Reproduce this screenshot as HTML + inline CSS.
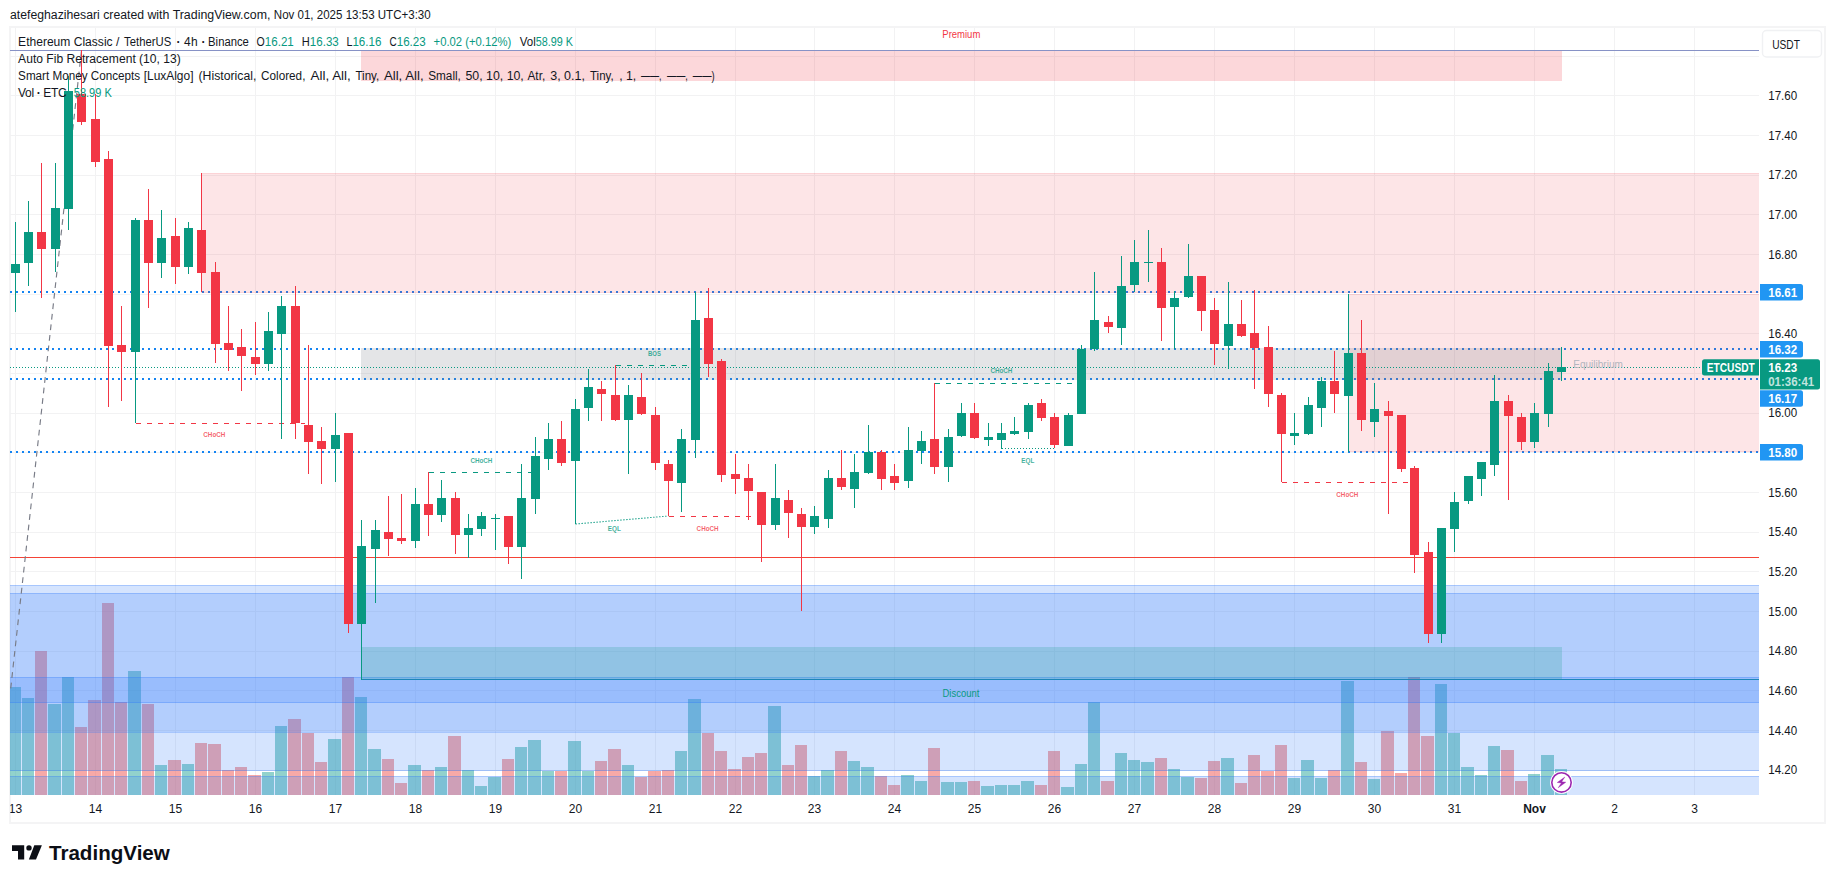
<!DOCTYPE html>
<html lang="en"><head><meta charset="utf-8"><title>ETCUSDT chart</title>
<style>
html,body{margin:0;padding:0;background:#fff;}
body{width:1835px;height:883px;overflow:hidden;position:relative;font-family:"Liberation Sans", sans-serif;}
svg{position:absolute;left:0;top:0;display:block;}
text{font-family:"Liberation Sans", sans-serif;}
.ce{shape-rendering:crispEdges;}
</style></head><body>
<svg width="1835" height="883" viewBox="0 0 1835 883">
<rect x="0" y="0" width="1835" height="883" fill="#ffffff"/>
<defs><clipPath id="pane"><rect x="10" y="28" width="1749" height="767"/></clipPath></defs>
<g class="ce" fill="#f4f4f5">
<rect x="9" y="26" width="1817" height="2"/>
<rect x="9" y="822" width="1817" height="2"/>
<rect x="9" y="26" width="2" height="798"/>
<rect x="1824" y="26" width="2" height="798"/>
</g>
<g clip-path="url(#pane)">
<g class="ce" fill="#f2f2f3">
<rect x="15" y="28" width="1" height="767"/>
<rect x="95" y="28" width="1" height="767"/>
<rect x="175" y="28" width="1" height="767"/>
<rect x="255" y="28" width="1" height="767"/>
<rect x="335" y="28" width="1" height="767"/>
<rect x="415" y="28" width="1" height="767"/>
<rect x="495" y="28" width="1" height="767"/>
<rect x="575" y="28" width="1" height="767"/>
<rect x="655" y="28" width="1" height="767"/>
<rect x="735" y="28" width="1" height="767"/>
<rect x="814" y="28" width="1" height="767"/>
<rect x="894" y="28" width="1" height="767"/>
<rect x="974" y="28" width="1" height="767"/>
<rect x="1054" y="28" width="1" height="767"/>
<rect x="1134" y="28" width="1" height="767"/>
<rect x="1214" y="28" width="1" height="767"/>
<rect x="1294" y="28" width="1" height="767"/>
<rect x="1374" y="28" width="1" height="767"/>
<rect x="1454" y="28" width="1" height="767"/>
<rect x="1534" y="28" width="1" height="767"/>
<rect x="1614" y="28" width="1" height="767"/>
<rect x="1694" y="28" width="1" height="767"/>
<rect x="10" y="56" width="1749" height="1"/>
<rect x="10" y="95" width="1749" height="1"/>
<rect x="10" y="135" width="1749" height="1"/>
<rect x="10" y="175" width="1749" height="1"/>
<rect x="10" y="214" width="1749" height="1"/>
<rect x="10" y="254" width="1749" height="1"/>
<rect x="10" y="294" width="1749" height="1"/>
<rect x="10" y="333" width="1749" height="1"/>
<rect x="10" y="373" width="1749" height="1"/>
<rect x="10" y="413" width="1749" height="1"/>
<rect x="10" y="452" width="1749" height="1"/>
<rect x="10" y="492" width="1749" height="1"/>
<rect x="10" y="532" width="1749" height="1"/>
<rect x="10" y="571" width="1749" height="1"/>
<rect x="10" y="611" width="1749" height="1"/>
<rect x="10" y="651" width="1749" height="1"/>
<rect x="10" y="690" width="1749" height="1"/>
<rect x="10" y="730" width="1749" height="1"/>
<rect x="10" y="770" width="1749" height="1"/>
</g>
<g class="ce">
<rect x="8" y="687" width="13" height="108" fill="#26a69a" fill-opacity="0.5"/>
<rect x="22" y="698" width="12" height="97" fill="#26a69a" fill-opacity="0.5"/>
<rect x="35" y="651" width="12" height="144" fill="#ef5350" fill-opacity="0.5"/>
<rect x="48" y="704" width="13" height="91" fill="#26a69a" fill-opacity="0.5"/>
<rect x="62" y="677" width="12" height="118" fill="#26a69a" fill-opacity="0.5"/>
<rect x="75" y="727" width="12" height="68" fill="#ef5350" fill-opacity="0.5"/>
<rect x="88" y="700" width="13" height="95" fill="#ef5350" fill-opacity="0.5"/>
<rect x="102" y="603" width="12" height="192" fill="#ef5350" fill-opacity="0.5"/>
<rect x="115" y="702" width="12" height="93" fill="#ef5350" fill-opacity="0.5"/>
<rect x="128" y="671" width="13" height="124" fill="#26a69a" fill-opacity="0.5"/>
<rect x="142" y="704" width="12" height="91" fill="#ef5350" fill-opacity="0.5"/>
<rect x="155" y="765" width="12" height="30" fill="#26a69a" fill-opacity="0.5"/>
<rect x="168" y="760" width="13" height="35" fill="#ef5350" fill-opacity="0.5"/>
<rect x="182" y="764" width="12" height="31" fill="#26a69a" fill-opacity="0.5"/>
<rect x="195" y="743" width="12" height="52" fill="#ef5350" fill-opacity="0.5"/>
<rect x="208" y="744" width="13" height="51" fill="#ef5350" fill-opacity="0.5"/>
<rect x="222" y="770" width="12" height="25" fill="#ef5350" fill-opacity="0.5"/>
<rect x="235" y="767" width="12" height="28" fill="#ef5350" fill-opacity="0.5"/>
<rect x="248" y="775" width="13" height="20" fill="#ef5350" fill-opacity="0.5"/>
<rect x="262" y="772" width="12" height="23" fill="#26a69a" fill-opacity="0.5"/>
<rect x="275" y="726" width="12" height="69" fill="#26a69a" fill-opacity="0.5"/>
<rect x="288" y="719" width="13" height="76" fill="#ef5350" fill-opacity="0.5"/>
<rect x="302" y="733" width="12" height="62" fill="#ef5350" fill-opacity="0.5"/>
<rect x="315" y="762" width="12" height="33" fill="#ef5350" fill-opacity="0.5"/>
<rect x="328" y="739" width="13" height="56" fill="#26a69a" fill-opacity="0.5"/>
<rect x="342" y="677" width="12" height="118" fill="#ef5350" fill-opacity="0.5"/>
<rect x="355" y="697" width="12" height="98" fill="#26a69a" fill-opacity="0.5"/>
<rect x="368" y="749" width="13" height="46" fill="#26a69a" fill-opacity="0.5"/>
<rect x="382" y="759" width="12" height="36" fill="#ef5350" fill-opacity="0.5"/>
<rect x="395" y="783" width="12" height="12" fill="#ef5350" fill-opacity="0.5"/>
<rect x="408" y="765" width="13" height="30" fill="#26a69a" fill-opacity="0.5"/>
<rect x="422" y="770" width="12" height="25" fill="#ef5350" fill-opacity="0.5"/>
<rect x="435" y="767" width="12" height="28" fill="#26a69a" fill-opacity="0.5"/>
<rect x="448" y="736" width="13" height="59" fill="#ef5350" fill-opacity="0.5"/>
<rect x="462" y="770" width="12" height="25" fill="#26a69a" fill-opacity="0.5"/>
<rect x="475" y="786" width="12" height="9" fill="#26a69a" fill-opacity="0.5"/>
<rect x="488" y="777" width="13" height="18" fill="#26a69a" fill-opacity="0.5"/>
<rect x="502" y="759" width="12" height="36" fill="#ef5350" fill-opacity="0.5"/>
<rect x="515" y="747" width="12" height="48" fill="#26a69a" fill-opacity="0.5"/>
<rect x="528" y="740" width="13" height="55" fill="#26a69a" fill-opacity="0.5"/>
<rect x="542" y="771" width="12" height="24" fill="#26a69a" fill-opacity="0.5"/>
<rect x="555" y="771" width="12" height="24" fill="#ef5350" fill-opacity="0.5"/>
<rect x="568" y="741" width="13" height="54" fill="#26a69a" fill-opacity="0.5"/>
<rect x="582" y="771" width="12" height="24" fill="#26a69a" fill-opacity="0.5"/>
<rect x="595" y="761" width="12" height="34" fill="#ef5350" fill-opacity="0.5"/>
<rect x="608" y="749" width="13" height="46" fill="#ef5350" fill-opacity="0.5"/>
<rect x="622" y="765" width="12" height="30" fill="#26a69a" fill-opacity="0.5"/>
<rect x="635" y="777" width="12" height="18" fill="#ef5350" fill-opacity="0.5"/>
<rect x="648" y="771" width="13" height="24" fill="#ef5350" fill-opacity="0.5"/>
<rect x="662" y="770" width="12" height="25" fill="#ef5350" fill-opacity="0.5"/>
<rect x="675" y="751" width="12" height="44" fill="#26a69a" fill-opacity="0.5"/>
<rect x="688" y="699" width="13" height="96" fill="#26a69a" fill-opacity="0.5"/>
<rect x="702" y="733" width="12" height="62" fill="#ef5350" fill-opacity="0.5"/>
<rect x="715" y="751" width="12" height="44" fill="#ef5350" fill-opacity="0.5"/>
<rect x="728" y="769" width="13" height="26" fill="#ef5350" fill-opacity="0.5"/>
<rect x="742" y="757" width="12" height="38" fill="#ef5350" fill-opacity="0.5"/>
<rect x="755" y="753" width="12" height="42" fill="#ef5350" fill-opacity="0.5"/>
<rect x="768" y="706" width="13" height="89" fill="#26a69a" fill-opacity="0.5"/>
<rect x="782" y="765" width="12" height="30" fill="#ef5350" fill-opacity="0.5"/>
<rect x="795" y="745" width="12" height="50" fill="#ef5350" fill-opacity="0.5"/>
<rect x="808" y="776" width="12" height="19" fill="#26a69a" fill-opacity="0.5"/>
<rect x="821" y="770" width="13" height="25" fill="#26a69a" fill-opacity="0.5"/>
<rect x="835" y="751" width="12" height="44" fill="#ef5350" fill-opacity="0.5"/>
<rect x="848" y="761" width="12" height="34" fill="#26a69a" fill-opacity="0.5"/>
<rect x="861" y="767" width="13" height="28" fill="#26a69a" fill-opacity="0.5"/>
<rect x="875" y="776" width="12" height="19" fill="#ef5350" fill-opacity="0.5"/>
<rect x="888" y="785" width="12" height="10" fill="#ef5350" fill-opacity="0.5"/>
<rect x="901" y="775" width="13" height="20" fill="#26a69a" fill-opacity="0.5"/>
<rect x="915" y="781" width="12" height="14" fill="#26a69a" fill-opacity="0.5"/>
<rect x="928" y="748" width="12" height="47" fill="#ef5350" fill-opacity="0.5"/>
<rect x="941" y="782" width="13" height="13" fill="#26a69a" fill-opacity="0.5"/>
<rect x="955" y="782" width="12" height="13" fill="#26a69a" fill-opacity="0.5"/>
<rect x="968" y="781" width="12" height="14" fill="#ef5350" fill-opacity="0.5"/>
<rect x="981" y="786" width="13" height="9" fill="#26a69a" fill-opacity="0.5"/>
<rect x="995" y="785" width="12" height="10" fill="#26a69a" fill-opacity="0.5"/>
<rect x="1008" y="785" width="12" height="10" fill="#26a69a" fill-opacity="0.5"/>
<rect x="1021" y="781" width="13" height="14" fill="#26a69a" fill-opacity="0.5"/>
<rect x="1035" y="785" width="12" height="10" fill="#ef5350" fill-opacity="0.5"/>
<rect x="1048" y="751" width="12" height="44" fill="#ef5350" fill-opacity="0.5"/>
<rect x="1061" y="787" width="13" height="8" fill="#26a69a" fill-opacity="0.5"/>
<rect x="1075" y="764" width="12" height="31" fill="#26a69a" fill-opacity="0.5"/>
<rect x="1088" y="702" width="12" height="93" fill="#26a69a" fill-opacity="0.5"/>
<rect x="1101" y="781" width="13" height="14" fill="#ef5350" fill-opacity="0.5"/>
<rect x="1115" y="753" width="12" height="42" fill="#26a69a" fill-opacity="0.5"/>
<rect x="1128" y="760" width="12" height="35" fill="#26a69a" fill-opacity="0.5"/>
<rect x="1141" y="762" width="13" height="33" fill="#26a69a" fill-opacity="0.5"/>
<rect x="1155" y="758" width="12" height="37" fill="#ef5350" fill-opacity="0.5"/>
<rect x="1168" y="769" width="12" height="26" fill="#26a69a" fill-opacity="0.5"/>
<rect x="1181" y="777" width="13" height="18" fill="#26a69a" fill-opacity="0.5"/>
<rect x="1195" y="778" width="12" height="17" fill="#ef5350" fill-opacity="0.5"/>
<rect x="1208" y="761" width="12" height="34" fill="#ef5350" fill-opacity="0.5"/>
<rect x="1221" y="758" width="13" height="37" fill="#26a69a" fill-opacity="0.5"/>
<rect x="1235" y="783" width="12" height="12" fill="#ef5350" fill-opacity="0.5"/>
<rect x="1248" y="755" width="12" height="40" fill="#ef5350" fill-opacity="0.5"/>
<rect x="1261" y="771" width="13" height="24" fill="#ef5350" fill-opacity="0.5"/>
<rect x="1275" y="745" width="12" height="50" fill="#ef5350" fill-opacity="0.5"/>
<rect x="1288" y="778" width="12" height="17" fill="#26a69a" fill-opacity="0.5"/>
<rect x="1301" y="760" width="13" height="35" fill="#26a69a" fill-opacity="0.5"/>
<rect x="1315" y="778" width="12" height="17" fill="#26a69a" fill-opacity="0.5"/>
<rect x="1328" y="770" width="12" height="25" fill="#ef5350" fill-opacity="0.5"/>
<rect x="1341" y="681" width="13" height="114" fill="#26a69a" fill-opacity="0.5"/>
<rect x="1355" y="762" width="12" height="33" fill="#ef5350" fill-opacity="0.5"/>
<rect x="1368" y="779" width="12" height="16" fill="#26a69a" fill-opacity="0.5"/>
<rect x="1381" y="731" width="13" height="64" fill="#ef5350" fill-opacity="0.5"/>
<rect x="1395" y="773" width="12" height="22" fill="#ef5350" fill-opacity="0.5"/>
<rect x="1408" y="677" width="12" height="118" fill="#ef5350" fill-opacity="0.5"/>
<rect x="1421" y="736" width="13" height="59" fill="#ef5350" fill-opacity="0.5"/>
<rect x="1435" y="684" width="12" height="111" fill="#26a69a" fill-opacity="0.5"/>
<rect x="1448" y="733" width="12" height="62" fill="#26a69a" fill-opacity="0.5"/>
<rect x="1461" y="767" width="13" height="28" fill="#26a69a" fill-opacity="0.5"/>
<rect x="1475" y="775" width="12" height="20" fill="#26a69a" fill-opacity="0.5"/>
<rect x="1488" y="746" width="12" height="49" fill="#26a69a" fill-opacity="0.5"/>
<rect x="1501" y="750" width="13" height="45" fill="#ef5350" fill-opacity="0.5"/>
<rect x="1515" y="781" width="12" height="14" fill="#ef5350" fill-opacity="0.5"/>
<rect x="1528" y="774" width="12" height="21" fill="#26a69a" fill-opacity="0.5"/>
<rect x="1541" y="755" width="13" height="40" fill="#26a69a" fill-opacity="0.5"/>
<rect x="1555" y="769" width="12" height="26" fill="#26a69a" fill-opacity="0.5"/>
</g>
<g class="ce" fill="#2d78fa">
<rect x="10" y="585" width="1749" height="8" fill-opacity="0.2"/>
<rect x="10" y="593" width="1749" height="84" fill-opacity="0.36"/>
<rect x="10" y="677" width="1749" height="26" fill-opacity="0.488"/>
<rect x="10" y="703" width="1749" height="29" fill-opacity="0.36"/>
<rect x="10" y="732" width="1749" height="39" fill-opacity="0.2"/>
<rect x="10" y="776" width="1749" height="19" fill-opacity="0.2"/>
<rect x="10" y="585" width="1749" height="1" fill-opacity="0.27"/>
<rect x="10" y="593" width="1749" height="1" fill-opacity="0.27"/>
<rect x="10" y="677" width="1749" height="1" fill-opacity="0.27"/>
<rect x="10" y="702" width="1749" height="1" fill-opacity="0.27"/>
<rect x="10" y="732" width="1749" height="1" fill-opacity="0.27"/>
<rect x="10" y="770" width="1749" height="1" fill-opacity="0.27"/>
<rect x="10" y="776" width="1749" height="1" fill-opacity="0.27"/>
</g>
<rect class="ce" x="10" y="50" width="1749" height="1" fill="#8792c6"/>
<g stroke="#1484f2" stroke-width="2" stroke-dasharray="2 4" class="ce">
<line x1="10" y1="292" x2="1759" y2="292"/>
<line x1="10" y1="349" x2="1759" y2="349"/>
<line x1="10" y1="379" x2="1759" y2="379"/>
<line x1="10" y1="452" x2="1759" y2="452"/>
</g>
<g class="ce">
<rect x="361" y="51" width="1201" height="30" fill="#f23645" fill-opacity="0.2"/>
<rect x="201" y="173" width="1559" height="120" fill="#f23645" fill-opacity="0.13"/>
<rect x="1349" y="294" width="411" height="158" fill="#f23645" fill-opacity="0.13"/>
<rect x="201" y="173" width="1559" height="1" fill="#f23645" fill-opacity="0.1"/>
<rect x="201" y="292" width="1559" height="1" fill="#f23645" fill-opacity="0.1"/>
<rect x="1349" y="294" width="411" height="1" fill="#f23645" fill-opacity="0.1"/>
<rect x="1349" y="451" width="411" height="1" fill="#f23645" fill-opacity="0.1"/>
<rect x="361" y="348" width="1201" height="32" fill="#787b86" fill-opacity="0.2"/>
<rect x="361" y="647" width="1201" height="32" fill="#089981" fill-opacity="0.2"/>
<rect x="361" y="679" width="1399" height="1" fill="#1e86b8"/>
<rect x="361" y="624" width="1" height="56" fill="#089981"/>
</g>
<rect class="ce" x="10" y="557" width="1749" height="1" fill="#f44336"/>
<line class="ce" x1="10" y1="367.5" x2="1759" y2="367.5" stroke="#089981" stroke-width="1" stroke-dasharray="1 2"/>
<line x1="81.5" y1="50.5" x2="10.3" y2="692" stroke="#787b86" stroke-width="1.15" stroke-dasharray="5.8 4.8"/>
<line class="ce" x1="135.5" y1="423.5" x2="305.0" y2="423.5" stroke="#f23645" stroke-width="1" stroke-dasharray="5 6"/>
<text x="214.3" y="437.0" font-size="7" font-weight="bold" fill="#f23645" fill-opacity="0.78" text-anchor="middle" textLength="22.0" lengthAdjust="spacingAndGlyphs">CHoCH</text>
<line class="ce" x1="428.5" y1="472.5" x2="531.0" y2="472.5" stroke="#089981" stroke-width="1" stroke-dasharray="5 6"/>
<text x="481.4" y="463.0" font-size="7" font-weight="bold" fill="#089981" fill-opacity="0.78" text-anchor="middle" textLength="22.0" lengthAdjust="spacingAndGlyphs">CHoCH</text>
<line class="ce" x1="668.5" y1="516.5" x2="759.0" y2="516.5" stroke="#f23645" stroke-width="1" stroke-dasharray="5 6"/>
<text x="707.6" y="531.0" font-size="7" font-weight="bold" fill="#f23645" fill-opacity="0.78" text-anchor="middle" textLength="22.0" lengthAdjust="spacingAndGlyphs">CHoCH</text>
<line class="ce" x1="615.5" y1="365.5" x2="687.0" y2="365.5" stroke="#089981" stroke-width="1" stroke-dasharray="5 6"/>
<text x="654.5" y="356.0" font-size="7" font-weight="bold" fill="#089981" fill-opacity="0.78" text-anchor="middle" textLength="13.0" lengthAdjust="spacingAndGlyphs">BOS</text>
<line class="ce" x1="934.5" y1="383.5" x2="1071.5" y2="383.5" stroke="#089981" stroke-width="1" stroke-dasharray="5 6"/>
<text x="1001.4" y="373.2" font-size="7" font-weight="bold" fill="#089981" fill-opacity="0.78" text-anchor="middle" textLength="22.0" lengthAdjust="spacingAndGlyphs">CHoCH</text>
<line class="ce" x1="1281.5" y1="482.5" x2="1408.0" y2="482.5" stroke="#f23645" stroke-width="1" stroke-dasharray="5 6"/>
<text x="1347.3" y="497.2" font-size="7" font-weight="bold" fill="#f23645" fill-opacity="0.78" text-anchor="middle" textLength="22.0" lengthAdjust="spacingAndGlyphs">CHoCH</text>
<line x1="575.5" y1="524" x2="668.5" y2="516" stroke="#089981" stroke-width="1.1" stroke-dasharray="1.3 1.7"/>
<text x="614.3" y="531.3" font-size="7" font-weight="bold" fill="#089981" fill-opacity="0.78" text-anchor="middle" textLength="13.0" lengthAdjust="spacingAndGlyphs">EQL</text>
<line class="ce" x1="1001.5" y1="448.5" x2="1054.5" y2="448.5" stroke="#089981" stroke-width="1" stroke-dasharray="1 2"/>
<text x="1027.8" y="463.0" font-size="7" font-weight="bold" fill="#089981" fill-opacity="0.78" text-anchor="middle" textLength="13.0" lengthAdjust="spacingAndGlyphs">EQL</text>
<g class="ce">
<rect x="15" y="222" width="1" height="90" fill="#089981"/>
<rect x="11" y="264" width="9" height="9" fill="#089981"/>
<rect x="28" y="201" width="1" height="85" fill="#089981"/>
<rect x="24" y="232" width="9" height="31" fill="#089981"/>
<rect x="41" y="163" width="1" height="135" fill="#f23645"/>
<rect x="37" y="232" width="9" height="17" fill="#f23645"/>
<rect x="55" y="163" width="1" height="109" fill="#089981"/>
<rect x="51" y="208" width="9" height="41" fill="#089981"/>
<rect x="68" y="76" width="1" height="154" fill="#089981"/>
<rect x="64" y="91" width="9" height="118" fill="#089981"/>
<rect x="81" y="50" width="1" height="75" fill="#f23645"/>
<rect x="77" y="94" width="9" height="28" fill="#f23645"/>
<rect x="95" y="94" width="1" height="73" fill="#f23645"/>
<rect x="91" y="119" width="9" height="43" fill="#f23645"/>
<rect x="108" y="151" width="1" height="256" fill="#f23645"/>
<rect x="104" y="159" width="9" height="187" fill="#f23645"/>
<rect x="121" y="306" width="1" height="95" fill="#f23645"/>
<rect x="117" y="345" width="9" height="7" fill="#f23645"/>
<rect x="135" y="218" width="1" height="205" fill="#089981"/>
<rect x="131" y="220" width="9" height="132" fill="#089981"/>
<rect x="148" y="189" width="1" height="119" fill="#f23645"/>
<rect x="144" y="220" width="9" height="43" fill="#f23645"/>
<rect x="161" y="210" width="1" height="68" fill="#089981"/>
<rect x="157" y="238" width="9" height="25" fill="#089981"/>
<rect x="175" y="218" width="1" height="66" fill="#f23645"/>
<rect x="171" y="236" width="9" height="31" fill="#f23645"/>
<rect x="188" y="222" width="1" height="52" fill="#089981"/>
<rect x="184" y="228" width="9" height="39" fill="#089981"/>
<rect x="201" y="173" width="1" height="119" fill="#f23645"/>
<rect x="197" y="230" width="9" height="43" fill="#f23645"/>
<rect x="215" y="262" width="1" height="101" fill="#f23645"/>
<rect x="211" y="272" width="9" height="72" fill="#f23645"/>
<rect x="228" y="306" width="1" height="65" fill="#f23645"/>
<rect x="224" y="343" width="9" height="7" fill="#f23645"/>
<rect x="241" y="329" width="1" height="62" fill="#f23645"/>
<rect x="237" y="347" width="9" height="9" fill="#f23645"/>
<rect x="255" y="322" width="1" height="53" fill="#f23645"/>
<rect x="251" y="357" width="9" height="7" fill="#f23645"/>
<rect x="268" y="312" width="1" height="59" fill="#089981"/>
<rect x="264" y="331" width="9" height="33" fill="#089981"/>
<rect x="281" y="296" width="1" height="143" fill="#089981"/>
<rect x="277" y="306" width="9" height="28" fill="#089981"/>
<rect x="295" y="286" width="1" height="153" fill="#f23645"/>
<rect x="291" y="306" width="9" height="117" fill="#f23645"/>
<rect x="308" y="345" width="1" height="129" fill="#f23645"/>
<rect x="304" y="425" width="9" height="17" fill="#f23645"/>
<rect x="321" y="427" width="1" height="57" fill="#f23645"/>
<rect x="317" y="441" width="9" height="8" fill="#f23645"/>
<rect x="335" y="413" width="1" height="69" fill="#089981"/>
<rect x="331" y="435" width="9" height="14" fill="#089981"/>
<rect x="348" y="433" width="1" height="200" fill="#f23645"/>
<rect x="344" y="433" width="9" height="191" fill="#f23645"/>
<rect x="361" y="520" width="1" height="160" fill="#089981"/>
<rect x="357" y="546" width="9" height="78" fill="#089981"/>
<rect x="375" y="520" width="1" height="83" fill="#089981"/>
<rect x="371" y="530" width="9" height="19" fill="#089981"/>
<rect x="388" y="496" width="1" height="60" fill="#f23645"/>
<rect x="384" y="532" width="9" height="7" fill="#f23645"/>
<rect x="401" y="494" width="1" height="50" fill="#f23645"/>
<rect x="397" y="538" width="9" height="3" fill="#f23645"/>
<rect x="415" y="488" width="1" height="60" fill="#089981"/>
<rect x="411" y="504" width="9" height="37" fill="#089981"/>
<rect x="428" y="472" width="1" height="64" fill="#f23645"/>
<rect x="424" y="504" width="9" height="11" fill="#f23645"/>
<rect x="441" y="480" width="1" height="42" fill="#089981"/>
<rect x="437" y="498" width="9" height="17" fill="#089981"/>
<rect x="455" y="492" width="1" height="62" fill="#f23645"/>
<rect x="451" y="498" width="9" height="37" fill="#f23645"/>
<rect x="468" y="514" width="1" height="44" fill="#089981"/>
<rect x="464" y="528" width="9" height="7" fill="#089981"/>
<rect x="481" y="512" width="1" height="24" fill="#089981"/>
<rect x="477" y="516" width="9" height="13" fill="#089981"/>
<rect x="495" y="514" width="1" height="36" fill="#089981"/>
<rect x="491" y="518" width="9" height="1" fill="#089981"/>
<rect x="508" y="516" width="1" height="48" fill="#f23645"/>
<rect x="504" y="516" width="9" height="31" fill="#f23645"/>
<rect x="521" y="464" width="1" height="115" fill="#089981"/>
<rect x="517" y="498" width="9" height="49" fill="#089981"/>
<rect x="535" y="437" width="1" height="77" fill="#089981"/>
<rect x="531" y="456" width="9" height="43" fill="#089981"/>
<rect x="548" y="423" width="1" height="47" fill="#089981"/>
<rect x="544" y="439" width="9" height="20" fill="#089981"/>
<rect x="561" y="421" width="1" height="45" fill="#f23645"/>
<rect x="557" y="439" width="9" height="24" fill="#f23645"/>
<rect x="575" y="399" width="1" height="125" fill="#089981"/>
<rect x="571" y="409" width="9" height="52" fill="#089981"/>
<rect x="588" y="369" width="1" height="52" fill="#089981"/>
<rect x="584" y="387" width="9" height="21" fill="#089981"/>
<rect x="601" y="381" width="1" height="40" fill="#f23645"/>
<rect x="597" y="389" width="9" height="5" fill="#f23645"/>
<rect x="615" y="365" width="1" height="56" fill="#f23645"/>
<rect x="611" y="395" width="9" height="25" fill="#f23645"/>
<rect x="628" y="385" width="1" height="89" fill="#089981"/>
<rect x="624" y="395" width="9" height="25" fill="#089981"/>
<rect x="641" y="373" width="1" height="42" fill="#f23645"/>
<rect x="637" y="397" width="9" height="17" fill="#f23645"/>
<rect x="655" y="407" width="1" height="63" fill="#f23645"/>
<rect x="651" y="415" width="9" height="48" fill="#f23645"/>
<rect x="668" y="460" width="1" height="56" fill="#f23645"/>
<rect x="664" y="464" width="9" height="17" fill="#f23645"/>
<rect x="681" y="429" width="1" height="83" fill="#089981"/>
<rect x="677" y="439" width="9" height="44" fill="#089981"/>
<rect x="695" y="292" width="1" height="166" fill="#089981"/>
<rect x="691" y="320" width="9" height="120" fill="#089981"/>
<rect x="708" y="288" width="1" height="89" fill="#f23645"/>
<rect x="704" y="318" width="9" height="46" fill="#f23645"/>
<rect x="721" y="359" width="1" height="123" fill="#f23645"/>
<rect x="717" y="361" width="9" height="114" fill="#f23645"/>
<rect x="735" y="454" width="1" height="40" fill="#f23645"/>
<rect x="731" y="474" width="9" height="5" fill="#f23645"/>
<rect x="748" y="464" width="1" height="56" fill="#f23645"/>
<rect x="744" y="478" width="9" height="13" fill="#f23645"/>
<rect x="761" y="492" width="1" height="70" fill="#f23645"/>
<rect x="757" y="492" width="9" height="33" fill="#f23645"/>
<rect x="775" y="464" width="1" height="66" fill="#089981"/>
<rect x="771" y="498" width="9" height="27" fill="#089981"/>
<rect x="788" y="490" width="1" height="48" fill="#f23645"/>
<rect x="784" y="500" width="9" height="13" fill="#f23645"/>
<rect x="801" y="508" width="1" height="103" fill="#f23645"/>
<rect x="797" y="514" width="9" height="13" fill="#f23645"/>
<rect x="814" y="506" width="1" height="28" fill="#089981"/>
<rect x="810" y="516" width="9" height="11" fill="#089981"/>
<rect x="828" y="470" width="1" height="58" fill="#089981"/>
<rect x="824" y="478" width="9" height="41" fill="#089981"/>
<rect x="841" y="450" width="1" height="40" fill="#f23645"/>
<rect x="837" y="478" width="9" height="9" fill="#f23645"/>
<rect x="854" y="454" width="1" height="54" fill="#089981"/>
<rect x="850" y="472" width="9" height="17" fill="#089981"/>
<rect x="868" y="425" width="1" height="49" fill="#089981"/>
<rect x="864" y="452" width="9" height="21" fill="#089981"/>
<rect x="881" y="450" width="1" height="40" fill="#f23645"/>
<rect x="877" y="452" width="9" height="27" fill="#f23645"/>
<rect x="894" y="464" width="1" height="26" fill="#f23645"/>
<rect x="890" y="476" width="9" height="7" fill="#f23645"/>
<rect x="908" y="427" width="1" height="61" fill="#089981"/>
<rect x="904" y="450" width="9" height="31" fill="#089981"/>
<rect x="921" y="431" width="1" height="33" fill="#089981"/>
<rect x="917" y="441" width="9" height="10" fill="#089981"/>
<rect x="934" y="383" width="1" height="91" fill="#f23645"/>
<rect x="930" y="439" width="9" height="28" fill="#f23645"/>
<rect x="948" y="429" width="1" height="53" fill="#089981"/>
<rect x="944" y="437" width="9" height="30" fill="#089981"/>
<rect x="961" y="403" width="1" height="34" fill="#089981"/>
<rect x="957" y="413" width="9" height="23" fill="#089981"/>
<rect x="974" y="403" width="1" height="36" fill="#f23645"/>
<rect x="970" y="413" width="9" height="25" fill="#f23645"/>
<rect x="988" y="423" width="1" height="23" fill="#089981"/>
<rect x="984" y="437" width="9" height="3" fill="#089981"/>
<rect x="1001" y="423" width="1" height="26" fill="#089981"/>
<rect x="997" y="433" width="9" height="7" fill="#089981"/>
<rect x="1014" y="417" width="1" height="18" fill="#089981"/>
<rect x="1010" y="431" width="9" height="3" fill="#089981"/>
<rect x="1028" y="403" width="1" height="36" fill="#089981"/>
<rect x="1024" y="405" width="9" height="27" fill="#089981"/>
<rect x="1041" y="399" width="1" height="22" fill="#f23645"/>
<rect x="1037" y="403" width="9" height="15" fill="#f23645"/>
<rect x="1054" y="413" width="1" height="35" fill="#f23645"/>
<rect x="1050" y="417" width="9" height="28" fill="#f23645"/>
<rect x="1068" y="413" width="1" height="33" fill="#089981"/>
<rect x="1064" y="415" width="9" height="31" fill="#089981"/>
<rect x="1081" y="345" width="1" height="69" fill="#089981"/>
<rect x="1077" y="349" width="9" height="65" fill="#089981"/>
<rect x="1094" y="272" width="1" height="79" fill="#089981"/>
<rect x="1090" y="320" width="9" height="29" fill="#089981"/>
<rect x="1108" y="316" width="1" height="17" fill="#f23645"/>
<rect x="1104" y="322" width="9" height="5" fill="#f23645"/>
<rect x="1121" y="256" width="1" height="89" fill="#089981"/>
<rect x="1117" y="286" width="9" height="42" fill="#089981"/>
<rect x="1134" y="240" width="1" height="52" fill="#089981"/>
<rect x="1130" y="262" width="9" height="23" fill="#089981"/>
<rect x="1148" y="230" width="1" height="52" fill="#089981"/>
<rect x="1144" y="262" width="9" height="1" fill="#089981"/>
<rect x="1161" y="248" width="1" height="93" fill="#f23645"/>
<rect x="1157" y="262" width="9" height="46" fill="#f23645"/>
<rect x="1174" y="291" width="1" height="58" fill="#089981"/>
<rect x="1170" y="298" width="9" height="9" fill="#089981"/>
<rect x="1188" y="244" width="1" height="54" fill="#089981"/>
<rect x="1184" y="276" width="9" height="21" fill="#089981"/>
<rect x="1201" y="276" width="1" height="55" fill="#f23645"/>
<rect x="1197" y="276" width="9" height="35" fill="#f23645"/>
<rect x="1214" y="298" width="1" height="67" fill="#f23645"/>
<rect x="1210" y="310" width="9" height="34" fill="#f23645"/>
<rect x="1228" y="282" width="1" height="87" fill="#089981"/>
<rect x="1224" y="324" width="9" height="22" fill="#089981"/>
<rect x="1241" y="300" width="1" height="37" fill="#f23645"/>
<rect x="1237" y="324" width="9" height="12" fill="#f23645"/>
<rect x="1254" y="290" width="1" height="99" fill="#f23645"/>
<rect x="1250" y="333" width="9" height="15" fill="#f23645"/>
<rect x="1268" y="326" width="1" height="81" fill="#f23645"/>
<rect x="1264" y="347" width="9" height="47" fill="#f23645"/>
<rect x="1281" y="393" width="1" height="89" fill="#f23645"/>
<rect x="1277" y="395" width="9" height="39" fill="#f23645"/>
<rect x="1294" y="413" width="1" height="32" fill="#089981"/>
<rect x="1290" y="433" width="9" height="3" fill="#089981"/>
<rect x="1308" y="397" width="1" height="38" fill="#089981"/>
<rect x="1304" y="405" width="9" height="29" fill="#089981"/>
<rect x="1321" y="377" width="1" height="50" fill="#089981"/>
<rect x="1317" y="381" width="9" height="27" fill="#089981"/>
<rect x="1334" y="351" width="1" height="62" fill="#f23645"/>
<rect x="1330" y="381" width="9" height="13" fill="#f23645"/>
<rect x="1348" y="294" width="1" height="158" fill="#089981"/>
<rect x="1344" y="353" width="9" height="43" fill="#089981"/>
<rect x="1361" y="320" width="1" height="111" fill="#f23645"/>
<rect x="1357" y="353" width="9" height="67" fill="#f23645"/>
<rect x="1374" y="383" width="1" height="54" fill="#089981"/>
<rect x="1370" y="409" width="9" height="13" fill="#089981"/>
<rect x="1388" y="401" width="1" height="113" fill="#f23645"/>
<rect x="1384" y="411" width="9" height="5" fill="#f23645"/>
<rect x="1401" y="415" width="1" height="57" fill="#f23645"/>
<rect x="1397" y="415" width="9" height="54" fill="#f23645"/>
<rect x="1414" y="466" width="1" height="107" fill="#f23645"/>
<rect x="1410" y="468" width="9" height="87" fill="#f23645"/>
<rect x="1428" y="542" width="1" height="101" fill="#f23645"/>
<rect x="1424" y="552" width="9" height="82" fill="#f23645"/>
<rect x="1441" y="528" width="1" height="115" fill="#089981"/>
<rect x="1437" y="528" width="9" height="106" fill="#089981"/>
<rect x="1454" y="492" width="1" height="60" fill="#089981"/>
<rect x="1450" y="502" width="9" height="27" fill="#089981"/>
<rect x="1468" y="476" width="1" height="28" fill="#089981"/>
<rect x="1464" y="476" width="9" height="25" fill="#089981"/>
<rect x="1481" y="462" width="1" height="34" fill="#089981"/>
<rect x="1477" y="462" width="9" height="17" fill="#089981"/>
<rect x="1494" y="375" width="1" height="101" fill="#089981"/>
<rect x="1490" y="401" width="9" height="64" fill="#089981"/>
<rect x="1508" y="395" width="1" height="105" fill="#f23645"/>
<rect x="1504" y="401" width="9" height="15" fill="#f23645"/>
<rect x="1521" y="413" width="1" height="37" fill="#f23645"/>
<rect x="1517" y="417" width="9" height="25" fill="#f23645"/>
<rect x="1534" y="403" width="1" height="45" fill="#089981"/>
<rect x="1530" y="413" width="9" height="29" fill="#089981"/>
<rect x="1548" y="363" width="1" height="64" fill="#089981"/>
<rect x="1544" y="371" width="9" height="43" fill="#089981"/>
<rect x="1561" y="347" width="1" height="34" fill="#089981"/>
<rect x="1557" y="367" width="9" height="5" fill="#089981"/>
</g>
<text x="961.3" y="37.6" font-size="10" font-weight="normal" fill="#f23645" fill-opacity="1" text-anchor="middle" textLength="38.0" lengthAdjust="spacingAndGlyphs">Premium</text>
<text x="960.9" y="697.0" font-size="10" font-weight="normal" fill="#089981" fill-opacity="1" text-anchor="middle" textLength="36.8" lengthAdjust="spacingAndGlyphs">Discount</text>
<text x="1573.3" y="368.4" font-size="10" fill="#b2b5be" textLength="49.5" lengthAdjust="spacingAndGlyphs">Equilibrium</text>
</g>
<g>
<circle cx="1561.5" cy="782.45" r="11.4" fill="#ffffff"/>
<circle cx="1561.5" cy="782.45" r="9.7" fill="#ffffff" stroke="#9c27b0" stroke-width="1.6"/>
<path d="M1564.8 777.1 L1557.2 782.5 L1561.4 782.9 L1558.2 787.8 L1565.8 782.2 L1561.7 781.8 Z" fill="#9c27b0" stroke="#9c27b0" stroke-width="0.4" stroke-linejoin="round"/>
</g>
<text x="10.0" y="18.7" font-size="12" font-weight="normal" fill="#131722" text-anchor="start" textLength="134.0" lengthAdjust="spacingAndGlyphs">atefeghazihesari created</text>
<text x="147.4" y="18.7" font-size="12" font-weight="normal" fill="#131722" text-anchor="start" textLength="123.0" lengthAdjust="spacingAndGlyphs">with TradingView.com,</text>
<text x="273.8" y="18.7" font-size="12" font-weight="normal" fill="#131722" text-anchor="start" textLength="156.9" lengthAdjust="spacingAndGlyphs">Nov 01, 2025 13:53 UTC+3:30</text>
<text x="18.1" y="45.6" font-size="12" font-weight="normal" fill="#131722" text-anchor="start" textLength="101.2" lengthAdjust="spacingAndGlyphs">Ethereum Classic /</text>
<text x="124.1" y="45.6" font-size="12" font-weight="normal" fill="#131722" text-anchor="start" textLength="47.1" lengthAdjust="spacingAndGlyphs">TetherUS</text>
<text x="176.4" y="45.6" font-size="12" fill="#131722" textLength="29" lengthAdjust="spacing"><tspan font-weight="bold">·</tspan> 4h <tspan font-weight="bold">·</tspan></text>
<text x="208.1" y="45.6" font-size="12" font-weight="normal" fill="#131722" text-anchor="start" textLength="40.8" lengthAdjust="spacingAndGlyphs">Binance</text>
<text x="256.6" y="45.6" font-size="12" font-weight="normal" fill="#131722" text-anchor="start" textLength="8.2" lengthAdjust="spacingAndGlyphs">O</text>
<text x="264.8" y="45.6" font-size="12" font-weight="normal" fill="#089981" text-anchor="start" textLength="29.0" lengthAdjust="spacingAndGlyphs">16.21</text>
<text x="301.8" y="45.6" font-size="12" font-weight="normal" fill="#131722" text-anchor="start" textLength="8.0" lengthAdjust="spacingAndGlyphs">H</text>
<text x="309.8" y="45.6" font-size="12" font-weight="normal" fill="#089981" text-anchor="start" textLength="29.0" lengthAdjust="spacingAndGlyphs">16.33</text>
<text x="346.4" y="45.6" font-size="12" font-weight="normal" fill="#131722" text-anchor="start" textLength="6.0" lengthAdjust="spacingAndGlyphs">L</text>
<text x="352.4" y="45.6" font-size="12" font-weight="normal" fill="#089981" text-anchor="start" textLength="29.0" lengthAdjust="spacingAndGlyphs">16.16</text>
<text x="389.5" y="45.6" font-size="12" font-weight="normal" fill="#131722" text-anchor="start" textLength="7.2" lengthAdjust="spacingAndGlyphs">C</text>
<text x="396.7" y="45.6" font-size="12" font-weight="normal" fill="#089981" text-anchor="start" textLength="29.0" lengthAdjust="spacingAndGlyphs">16.23</text>
<text x="433.6" y="45.6" font-size="12" font-weight="normal" fill="#089981" text-anchor="start" textLength="77.7" lengthAdjust="spacingAndGlyphs">+0.02 (+0.12%)</text>
<text x="519.8" y="45.6" font-size="12" font-weight="normal" fill="#131722" text-anchor="start" textLength="16.0" lengthAdjust="spacingAndGlyphs">Vol</text>
<text x="535.8" y="45.6" font-size="12" font-weight="normal" fill="#089981" text-anchor="start" textLength="37.2" lengthAdjust="spacingAndGlyphs">58.99 K</text>
<text x="18.1" y="62.7" font-size="12" font-weight="normal" fill="#131722" text-anchor="start" textLength="162.7" lengthAdjust="spacingAndGlyphs">Auto Fib Retracement (10, 13)</text>
<text x="18.1" y="79.5" font-size="12" font-weight="normal" fill="#131722" text-anchor="start" textLength="122.1" lengthAdjust="spacingAndGlyphs">Smart Money Concepts</text>
<text x="143.7" y="79.5" font-size="12" font-weight="normal" fill="#131722" text-anchor="start" textLength="49.8" lengthAdjust="spacingAndGlyphs">[LuxAlgo]</text>
<text x="198.5" y="79.5" font-size="12" font-weight="normal" fill="#131722" text-anchor="start" textLength="57.9" lengthAdjust="spacingAndGlyphs">(Historical,</text>
<text x="261.1" y="79.5" font-size="12" font-weight="normal" fill="#131722" text-anchor="start" textLength="44.3" lengthAdjust="spacingAndGlyphs">Colored,</text>
<text x="310.5" y="79.5" font-size="12" font-weight="normal" fill="#131722" text-anchor="start" textLength="40.3" lengthAdjust="spacingAndGlyphs">All, All,</text>
<text x="355.4" y="79.5" font-size="12" font-weight="normal" fill="#131722" text-anchor="start" textLength="23.9" lengthAdjust="spacingAndGlyphs">Tiny,</text>
<text x="383.9" y="79.5" font-size="12" font-weight="normal" fill="#131722" text-anchor="start" textLength="39.7" lengthAdjust="spacingAndGlyphs">All, All,</text>
<text x="428.2" y="79.5" font-size="12" font-weight="normal" fill="#131722" text-anchor="start" textLength="32.7" lengthAdjust="spacingAndGlyphs">Small,</text>
<text x="465.5" y="79.5" font-size="12" font-weight="normal" fill="#131722" text-anchor="start" textLength="58.3" lengthAdjust="spacingAndGlyphs">50, 10, 10,</text>
<text x="527.5" y="79.5" font-size="12" font-weight="normal" fill="#131722" text-anchor="start" textLength="17.7" lengthAdjust="spacingAndGlyphs">Atr,</text>
<text x="550.2" y="79.5" font-size="12" font-weight="normal" fill="#131722" text-anchor="start" textLength="34.7" lengthAdjust="spacingAndGlyphs">3, 0.1,</text>
<text x="590.0" y="79.5" font-size="12" font-weight="normal" fill="#131722" text-anchor="start" textLength="23.6" lengthAdjust="spacingAndGlyphs">Tiny,</text>
<text x="619.2" y="79.5" font-size="12" font-weight="normal" fill="#131722" text-anchor="start" textLength="17.1" lengthAdjust="spacingAndGlyphs">, 1,</text>
<text x="641.0" y="79.5" font-size="12" font-weight="normal" fill="#131722" text-anchor="start" textLength="20.6" lengthAdjust="spacingAndGlyphs">——,</text>
<text x="667.0" y="79.5" font-size="12" font-weight="normal" fill="#131722" text-anchor="start" textLength="20.8" lengthAdjust="spacingAndGlyphs">——,</text>
<text x="692.8" y="79.5" font-size="12" font-weight="normal" fill="#131722" text-anchor="start" textLength="21.8" lengthAdjust="spacingAndGlyphs">——)</text>
<text x="18.1" y="96.5" font-size="12" fill="#131722" textLength="48.5" lengthAdjust="spacing">Vol <tspan font-weight="bold">·</tspan> ETC</text>
<text x="73.8" y="96.5" font-size="12" font-weight="normal" fill="#089981" text-anchor="start" textLength="38.0" lengthAdjust="spacingAndGlyphs">58.99 K</text>
<text x="1768.2" y="99.8" font-size="12" font-weight="normal" fill="#131722" text-anchor="start" textLength="29.0" lengthAdjust="spacingAndGlyphs">17.60</text>
<text x="1768.2" y="139.5" font-size="12" font-weight="normal" fill="#131722" text-anchor="start" textLength="29.0" lengthAdjust="spacingAndGlyphs">17.40</text>
<text x="1768.2" y="179.1" font-size="12" font-weight="normal" fill="#131722" text-anchor="start" textLength="29.0" lengthAdjust="spacingAndGlyphs">17.20</text>
<text x="1768.2" y="218.8" font-size="12" font-weight="normal" fill="#131722" text-anchor="start" textLength="29.0" lengthAdjust="spacingAndGlyphs">17.00</text>
<text x="1768.2" y="258.5" font-size="12" font-weight="normal" fill="#131722" text-anchor="start" textLength="29.0" lengthAdjust="spacingAndGlyphs">16.80</text>
<text x="1768.2" y="337.8" font-size="12" font-weight="normal" fill="#131722" text-anchor="start" textLength="29.0" lengthAdjust="spacingAndGlyphs">16.40</text>
<text x="1768.2" y="417.2" font-size="12" font-weight="normal" fill="#131722" text-anchor="start" textLength="29.0" lengthAdjust="spacingAndGlyphs">16.00</text>
<text x="1768.2" y="496.5" font-size="12" font-weight="normal" fill="#131722" text-anchor="start" textLength="29.0" lengthAdjust="spacingAndGlyphs">15.60</text>
<text x="1768.2" y="536.2" font-size="12" font-weight="normal" fill="#131722" text-anchor="start" textLength="29.0" lengthAdjust="spacingAndGlyphs">15.40</text>
<text x="1768.2" y="575.8" font-size="12" font-weight="normal" fill="#131722" text-anchor="start" textLength="29.0" lengthAdjust="spacingAndGlyphs">15.20</text>
<text x="1768.2" y="615.5" font-size="12" font-weight="normal" fill="#131722" text-anchor="start" textLength="29.0" lengthAdjust="spacingAndGlyphs">15.00</text>
<text x="1768.2" y="655.2" font-size="12" font-weight="normal" fill="#131722" text-anchor="start" textLength="29.0" lengthAdjust="spacingAndGlyphs">14.80</text>
<text x="1768.2" y="694.9" font-size="12" font-weight="normal" fill="#131722" text-anchor="start" textLength="29.0" lengthAdjust="spacingAndGlyphs">14.60</text>
<text x="1768.2" y="734.5" font-size="12" font-weight="normal" fill="#131722" text-anchor="start" textLength="29.0" lengthAdjust="spacingAndGlyphs">14.40</text>
<text x="1768.2" y="774.2" font-size="12" font-weight="normal" fill="#131722" text-anchor="start" textLength="29.0" lengthAdjust="spacingAndGlyphs">14.20</text>
<path d="M1760 284.0 H1800.5 Q1803.0 284.0 1803.0 286.5 V298.0 Q1803.0 300.5 1800.5 300.5 H1760 Z" fill="#2196f3"/>
<text x="1768.2" y="296.6" font-size="12" font-weight="bold" fill="#fff" text-anchor="start" textLength="29.0" lengthAdjust="spacingAndGlyphs">16.61</text>
<path d="M1760 341.0 H1800.5 Q1803.0 341.0 1803.0 343.5 V355.0 Q1803.0 357.5 1800.5 357.5 H1760 Z" fill="#2196f3"/>
<text x="1768.2" y="353.6" font-size="12" font-weight="bold" fill="#fff" text-anchor="start" textLength="29.0" lengthAdjust="spacingAndGlyphs">16.32</text>
<path d="M1760 390.3 H1800.5 Q1803.0 390.3 1803.0 392.8 V404.2 Q1803.0 406.7 1800.5 406.7 H1760 Z" fill="#2196f3"/>
<text x="1768.2" y="402.8" font-size="12" font-weight="bold" fill="#fff" text-anchor="start" textLength="29.0" lengthAdjust="spacingAndGlyphs">16.17</text>
<path d="M1760 444.0 H1800.5 Q1803.0 444.0 1803.0 446.5 V458.0 Q1803.0 460.5 1800.5 460.5 H1760 Z" fill="#2196f3"/>
<text x="1768.2" y="456.6" font-size="12" font-weight="bold" fill="#fff" text-anchor="start" textLength="29.0" lengthAdjust="spacingAndGlyphs">15.80</text>
<path d="M1760 359.3 H1817.5 Q1820.0 359.3 1820.0 361.8 V387.0 Q1820.0 389.5 1817.5 389.5 H1760 Z" fill="#089981"/>
<text x="1768.2" y="372.1" font-size="12" font-weight="bold" fill="#fff" text-anchor="start" textLength="29.0" lengthAdjust="spacingAndGlyphs">16.23</text>
<text x="1768.2" y="386" font-size="12" font-weight="bold" fill="#ffffff" fill-opacity="0.75" textLength="46" lengthAdjust="spacingAndGlyphs">01:36:41</text>
<g fill-opacity="0.0"></g>
<path d="M1759 359.3 H1704.5 Q1702 359.3 1702 361.8 V373.1 Q1702 375.6 1704.5 375.6 H1759 Z" fill="#089981"/>
<text x="1706.8" y="371.8" font-size="12" font-weight="bold" fill="#fff" text-anchor="start" textLength="48.0" lengthAdjust="spacingAndGlyphs">ETCUSDT</text>
<rect x="1762.5" y="30.5" width="59" height="26.5" rx="4" fill="#fff" stroke="#f0f1f3" stroke-width="1.4"/>
<text x="1772.2" y="48.8" font-size="12" font-weight="normal" fill="#131722" text-anchor="start" textLength="27.7" lengthAdjust="spacingAndGlyphs">USDT</text>
<clipPath id="tl0"><rect x="10.4" y="798" width="40" height="24"/></clipPath>
<text x="15.5" y="812.8" font-size="12" fill="#131722" text-anchor="middle" clip-path="url(#tl0)">13</text>
<text x="95.5" y="812.8" font-size="12" font-weight="normal" fill="#131722" text-anchor="middle">14</text>
<text x="175.5" y="812.8" font-size="12" font-weight="normal" fill="#131722" text-anchor="middle">15</text>
<text x="255.5" y="812.8" font-size="12" font-weight="normal" fill="#131722" text-anchor="middle">16</text>
<text x="335.5" y="812.8" font-size="12" font-weight="normal" fill="#131722" text-anchor="middle">17</text>
<text x="415.5" y="812.8" font-size="12" font-weight="normal" fill="#131722" text-anchor="middle">18</text>
<text x="495.5" y="812.8" font-size="12" font-weight="normal" fill="#131722" text-anchor="middle">19</text>
<text x="575.5" y="812.8" font-size="12" font-weight="normal" fill="#131722" text-anchor="middle">20</text>
<text x="655.5" y="812.8" font-size="12" font-weight="normal" fill="#131722" text-anchor="middle">21</text>
<text x="735.5" y="812.8" font-size="12" font-weight="normal" fill="#131722" text-anchor="middle">22</text>
<text x="814.5" y="812.8" font-size="12" font-weight="normal" fill="#131722" text-anchor="middle">23</text>
<text x="894.5" y="812.8" font-size="12" font-weight="normal" fill="#131722" text-anchor="middle">24</text>
<text x="974.5" y="812.8" font-size="12" font-weight="normal" fill="#131722" text-anchor="middle">25</text>
<text x="1054.5" y="812.8" font-size="12" font-weight="normal" fill="#131722" text-anchor="middle">26</text>
<text x="1134.5" y="812.8" font-size="12" font-weight="normal" fill="#131722" text-anchor="middle">27</text>
<text x="1214.5" y="812.8" font-size="12" font-weight="normal" fill="#131722" text-anchor="middle">28</text>
<text x="1294.5" y="812.8" font-size="12" font-weight="normal" fill="#131722" text-anchor="middle">29</text>
<text x="1374.5" y="812.8" font-size="12" font-weight="normal" fill="#131722" text-anchor="middle">30</text>
<text x="1454.5" y="812.8" font-size="12" font-weight="normal" fill="#131722" text-anchor="middle">31</text>
<text x="1534.5" y="812.8" font-size="12" font-weight="bold" fill="#131722" text-anchor="middle">Nov</text>
<text x="1614.5" y="812.8" font-size="12" font-weight="normal" fill="#131722" text-anchor="middle">2</text>
<text x="1694.5" y="812.8" font-size="12" font-weight="normal" fill="#131722" text-anchor="middle">3</text>
<g fill="#0c0e15">
<path d="M12 845.2 H24.2 V859.6 H18 V851 H12 Z"/>
<circle cx="29" cy="847.9" r="2.7"/>
<path d="M34.3 845.2 H41.9 L36 859.6 H28.9 Z"/>
</g>
<text x="49.0" y="859.6" font-size="20" font-weight="bold" fill="#0c0e15" text-anchor="start" textLength="120.8" lengthAdjust="spacingAndGlyphs">TradingView</text>
</svg>
</body></html>
